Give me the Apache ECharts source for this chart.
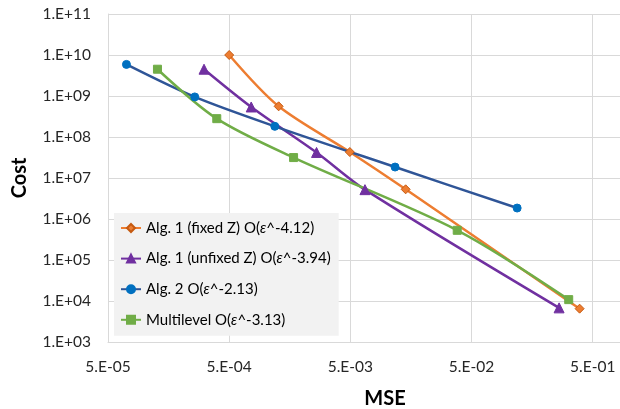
<!DOCTYPE html>
<html>
<head>
<meta charset="utf-8">
<script src="https://cdn.jsdelivr.net/npm/echarts@6/dist/echarts.min.js"></script>
<style>html,body{margin:0;padding:0;background:#fff}#c{width:620px;height:409px}</style>
</head>
<body>
<div id="c"></div>
<script>
const seriesNames = [
  'Alg. 1 (fixed Z) O(ε^-4.12)',
  'Alg. 1 (unfixed Z) O(ε^-3.94)',
  'Alg. 2 O(ε^-2.13)',
  'Multilevel O(ε^-3.13)'
];
const mseFixed = [5.0e-4, 1.28e-3, 4.95e-3, 1.43e-2, 0.39];
const costFixed = [1.0e10, 5.6e8, 4.3e7, 5.3e6, 6.5e3];
const mseUnfixed = [3.1e-4, 7.6e-4, 2.63e-3, 6.6e-3, 0.264];
const costUnfixed = [4.5e9, 5.4e8, 4.2e7, 5.2e6, 6.8e3];
const mseAlg2 = [7.1e-5, 2.6e-4, 1.19e-3, 1.17e-2, 0.119];
const costAlg2 = [5.9e9, 9.5e8, 1.82e8, 1.85e7, 1.85e6];
const mseML = [1.28e-4, 3.95e-4, 1.70e-3, 3.81e-2, 0.317];
const costML = [4.5e9, 2.8e8, 3.15e7, 5.3e5, 1.08e4];
const xTicks = [5e-5, 5e-4, 5e-3, 5e-2, 5e-1];

const FONT = 'Lato';
function pair(xs, ys) { return xs.map((x, i) => [x, ys[i]]); }
function sci(v) {
  const e = Math.floor(Math.log10(v) + 1e-9);
  const m = Math.round(v / Math.pow(10, e));
  const sign = e < 0 ? '-' : '+';
  const a = Math.abs(e);
  return m + '.E' + sign + (a < 10 ? '0' + a : a);
}
const chart = echarts.init(document.getElementById('c'), null, {renderer: 'canvas'});
function mk(name, data, lineColor, markColor, symbol, size, borderColor) {
  return {
    name, type: 'line', data, smooth: 0.3,
    symbol, symbolSize: size, showSymbol: true,
    lineStyle: {color: lineColor, width: 2.5},
    itemStyle: {color: markColor, borderColor: borderColor || markColor, borderWidth: 1},
    emphasis: {disabled: true}
  };
}
chart.setOption({
  animation: false,
  grid: {left: 108, right: 0, top: 14, bottom: 67, containLabel: false, outerBoundsMode: 'none'},
  xAxis: {
    type: 'log', logBase: 10, min: 5e-5, max: 0.84,
    name: 'MSE', nameLocation: 'middle', nameGap: 47,
    nameTextStyle: {fontFamily: FONT, fontSize: 20, fontWeight: 'bold', color: '#000', padding: [0, 0, 0, 42]},
    axisLine: {show: true, lineStyle: {color: '#d9d9d9', width: 1}},
    axisTick: {show: false, customValues: xTicks},
    axisLabel: {customValues: xTicks, margin: 17, fontFamily: FONT, fontSize: 15.5, color: '#262626', formatter: v => sci(v)},
    splitLine: {show: true, lineStyle: {color: '#d9d9d9', width: 1}},
    minorSplitLine: {show: false}
  },
  yAxis: {
    type: 'log', logBase: 10, min: 1e3, max: 1e11,
    name: 'Cost', nameLocation: 'middle', nameGap: 78,
    nameTextStyle: {fontFamily: FONT, fontSize: 20, fontWeight: 'bold', color: '#000'},
    axisLine: {show: true, lineStyle: {color: '#d9d9d9', width: 1}},
    axisTick: {show: false},
    axisLabel: {margin: 17, fontFamily: FONT, fontSize: 15.5, color: '#262626', formatter: v => sci(v)},
    splitLine: {show: true, lineStyle: {color: '#d9d9d9', width: 1}}
  },
  legend: {
    orient: 'vertical', left: 114, top: 213,
    backgroundColor: '#f2f2f2', padding: [5, 8, 6, 6],
    itemWidth: 20, itemHeight: 10, itemGap: 10.6,
    data: seriesNames,
    textStyle: {fontFamily: FONT, fontSize: 15, color: '#000', lineHeight: 20,
      rich: {e: {fontFamily: FONT, fontSize: 15, fontStyle: 'italic', color: '#000', lineHeight: 20}}},
    formatter: n => n.replace('ε', '{e|ε}')
  },
  series: [
    mk(seriesNames[0], pair(mseFixed, costFixed), '#ED7D31', '#ED7D31', 'diamond', 9, '#C55A11'),
    mk(seriesNames[1], pair(mseUnfixed, costUnfixed), '#7030A0', '#7030A0', 'triangle', 10),
    mk(seriesNames[2], pair(mseAlg2, costAlg2), '#2F5597', '#0070C0', 'circle', 8),
    mk(seriesNames[3], pair(mseML, costML), '#70AD47', '#70AD47', 'rect', 8)
  ]
});
</script>
</body>
</html>
